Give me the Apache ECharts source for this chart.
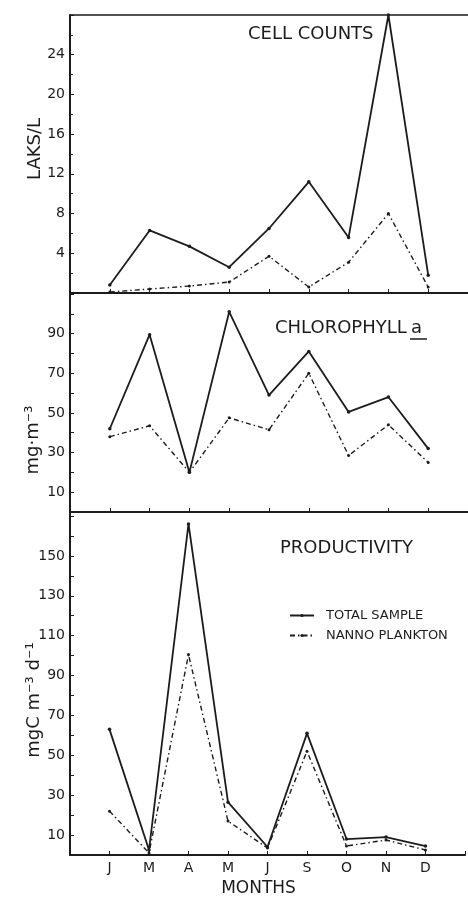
<!DOCTYPE html>
<html>
<head>
<meta charset="utf-8">
<script src="https://cdn.jsdelivr.net/npm/echarts@6/dist/echarts.min.js"></script>
<style>
html,body{margin:0;padding:0;background:#fff;}
#c{width:468px;height:898px;}
</style>
</head>
<body>
<div id="c"></div>
<script>
var months = ['J','M','A','M','J','S','O','N','D'];
var cellTotal = [0.8, 6.3, 4.7, 2.6, 6.5, 11.2, 5.6, 28, 1.8];
var cellNanno = [0.1, 0.4, 0.7, 1.1, 3.7, 0.6, 3.1, 8.0, 0.6];
var chlTotal = [42, 89.5, 20, 101, 59, 81, 50.5, 58, 32];
var chlNanno = [38, 43.5, 20, 47.5, 41.5, 70, 28.5, 44, 25];
var prodTotal = [63, 2.5, 166, 26.5, 4, 61, 8, 9, 4.5];
var prodNanno = [22, 1, 100.5, 17, 3.5, 52, 4.5, 7.5, 2.5];
var cellTicks = [4, 8, 12, 16, 20, 24];
var chlTicks = [10, 30, 50, 70, 90];
var prodTicks = [10, 30, 50, 70, 90, 110, 130, 150];

var INK = '#1c1c1c';
var FONT = 'DejaVu Sans';

function pts(arr){ return arr.map(function(v,i){ return [i+1, v]; }); }

function xAx(gi, showLabels){
  return {
    type:'value', gridIndex:gi, min:0, max:10, interval:1,
    axisLine:{show:true, lineStyle:{color:INK, width:2}},
    axisTick:{show:true, inside:true, length:4, lineStyle:{color:INK, width:1}},
    axisLabel:{show:showLabels, color:INK, fontFamily:FONT, fontSize:14, margin:6,
      formatter:function(v){ return months[v-1] || ''; }},
    splitLine:{show:false},
    name: showLabels ? 'MONTHS' : '',
    nameLocation:'middle', nameGap:25,
    nameTextStyle:{color:INK, fontFamily:FONT, fontSize:17, padding:[0,18,0,0]}
  };
}
function yAx(gi, min, max, interval, ticks, minor){
  return {
    type:'value', gridIndex:gi, min:min, max:max, interval:interval,
    axisLine:{show:true, lineStyle:{color:INK, width:2}},
    axisTick:{show:true, inside:true, length:4, lineStyle:{color:INK, width:1}},
    minorTick:{show:!!minor, splitNumber:2, length:3, lineStyle:{color:INK, width:1}},
    axisLabel:{color:INK, fontFamily:FONT, fontSize:14, margin:5,
      formatter:function(v){ return ticks.indexOf(v) >= 0 ? String(v) : ''; }},
    splitLine:{show:false}
  };
}
function line(name, xi, data, dashed){
  return {
    name:name, type:'line', xAxisIndex:xi, yAxisIndex:xi, data:pts(data),
    symbol:'circle', symbolSize: dashed ? 3 : 3.5,
    itemStyle:{color:INK},
    lineStyle:{color:INK, width: dashed ? 1.4 : 1.8, type: dashed ? [5,3,1.5,3] : 'solid'},
    animation:false, z: dashed ? 2 : 3
  };
}

var chart = echarts.init(document.getElementById('c'), null, {renderer:'canvas'});
chart.setOption({
  backgroundColor:'#fff',
  animation:false,
  grid:[
    {left:70, right:0, top:15, height:278},
    {left:70, right:0, top:294, height:218},
    {left:70, right:0, top:512, height:344}
  ],
  xAxis:[
    xAx(0,false), xAx(1,false), xAx(2,true),
    {type:'value', gridIndex:0, position:'top', min:0, max:10,
     axisLine:{show:true, lineStyle:{color:INK, width:1.5}},
     axisTick:{show:false}, axisLabel:{show:false}, splitLine:{show:false}}
  ],
  yAxis:[
    yAx(0, 0, 28, 4, cellTicks, true),
    yAx(1, 0, 110, 10, chlTicks, false),
    yAx(2, 0, 172, 10, prodTicks, false)
  ],
  legend:{
    data:['TOTAL SAMPLE','NANNO PLANKTON'],
    orient:'vertical', left:284, top:604,
    itemWidth:24, itemHeight:4, itemGap:7,
    textStyle:{color:INK, fontFamily:FONT, fontSize:13, padding:[0,0,0,7]},
    selectedMode:false
  },
  series:[
    line('TOTAL SAMPLE', 0, cellTotal, false),
    line('NANNO PLANKTON', 0, cellNanno, true),
    line('TOTAL SAMPLE', 1, chlTotal, false),
    line('NANNO PLANKTON', 1, chlNanno, true),
    line('TOTAL SAMPLE', 2, prodTotal, false),
    line('NANNO PLANKTON', 2, prodNanno, true)
  ],
  graphic:[
    {type:'text', x:248, y:34, style:{text:'CELL COUNTS', fill:INK, font:'18px "DejaVu Sans"', textVerticalAlign:'middle'}},
    {type:'text', x:275, y:328, style:{text:'CHLOROPHYLL', fill:INK, font:'18px "DejaVu Sans"', textVerticalAlign:'middle'}},
    {type:'text', x:411, y:328, style:{text:'a', fill:INK, font:'18px "DejaVu Sans"', textVerticalAlign:'middle'}},
    {type:'line', shape:{x1:410, y1:339, x2:427, y2:339}, style:{stroke:INK, lineWidth:1.5}},
    {type:'text', x:280, y:548, style:{text:'PRODUCTIVITY', fill:INK, font:'18px "DejaVu Sans"', textVerticalAlign:'middle'}},
    {type:'text', x:35, y:149, rotation:Math.PI/2,
     style:{text:'LAKS/L', fill:INK, font:'18px "DejaVu Sans"', textAlign:'center', textVerticalAlign:'middle'}},
    {type:'text', x:33, y:440, rotation:Math.PI/2,
     style:{text:'mg\u00b7m\u207b\u00b3', fill:INK, font:'18px "DejaVu Sans"', textAlign:'center', textVerticalAlign:'middle'}},
    {type:'text', x:34, y:700, rotation:Math.PI/2,
     style:{text:'mgC m\u207b\u00b3 d\u207b\u00b9', fill:INK, font:'18px "DejaVu Sans"', textAlign:'center', textVerticalAlign:'middle'}}
  ]
});
</script>
</body>
</html>
